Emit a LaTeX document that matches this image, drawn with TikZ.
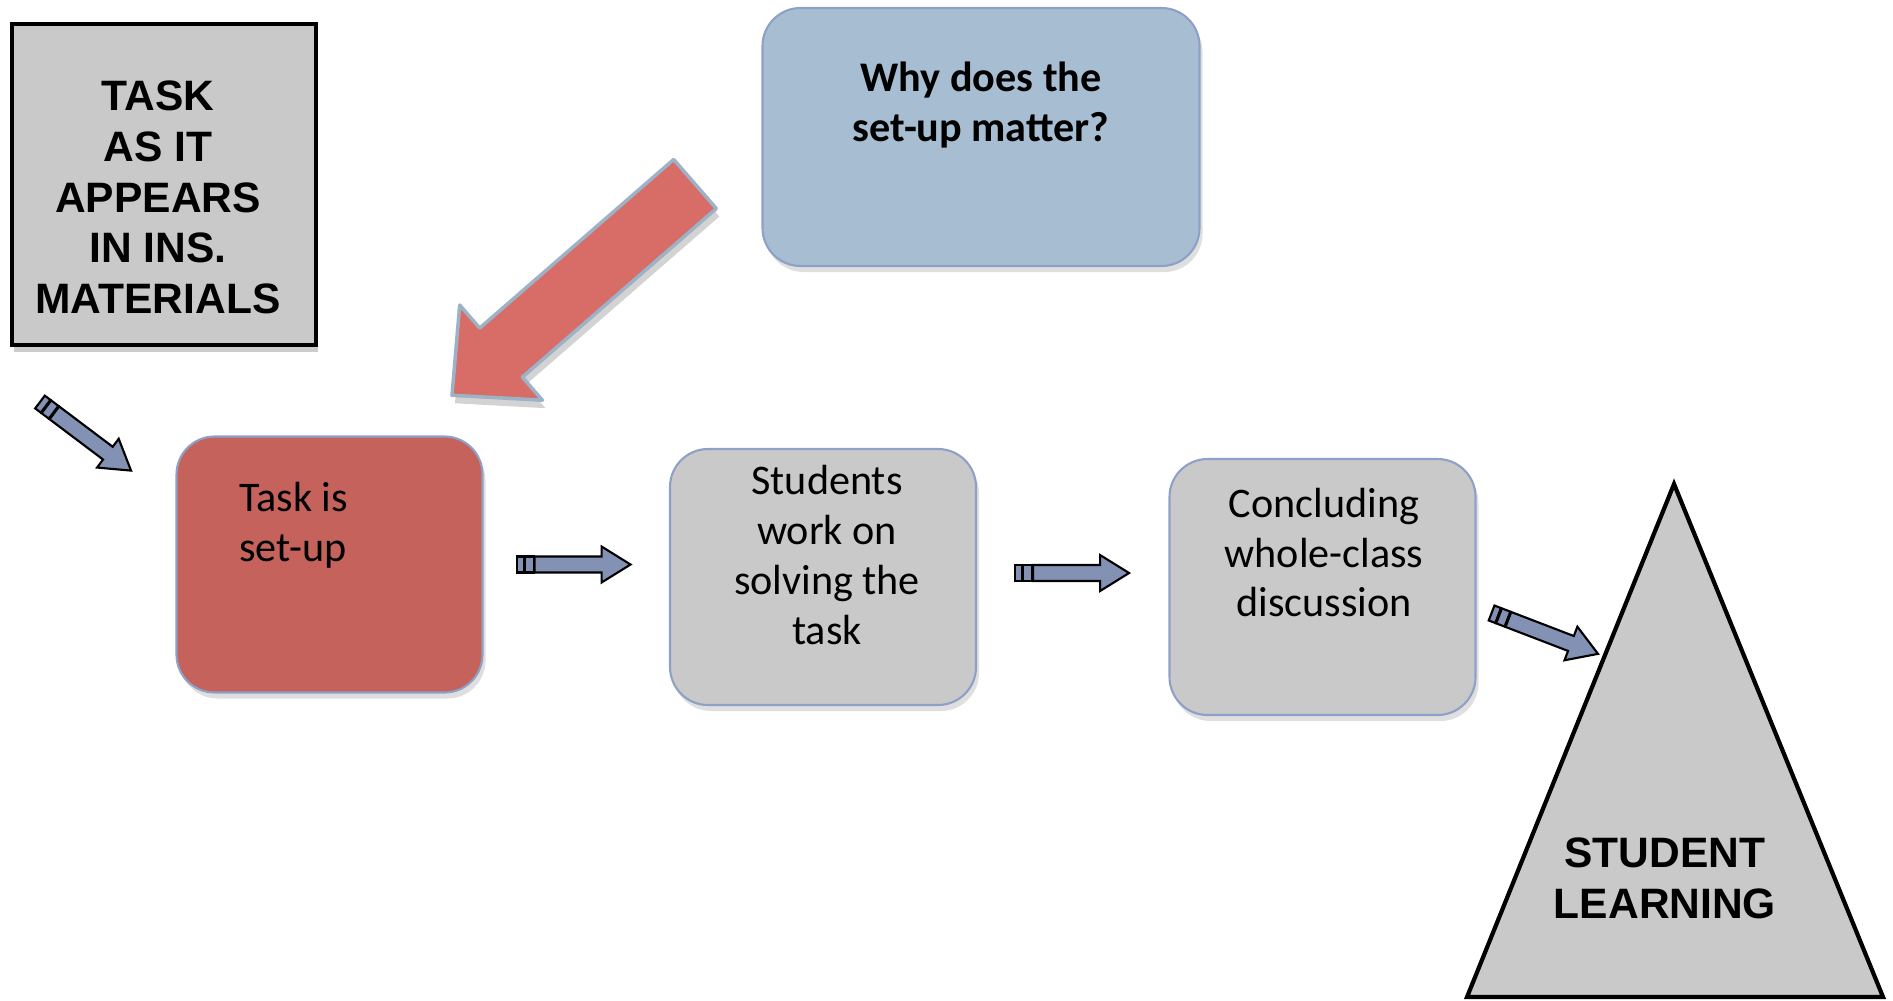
\documentclass[tikz,border=0pt]{standalone}
\usepackage{fontspec}
\setmainfont{Carlito}
\newfontfamily\arialfont{Liberation Sans}
\usepackage{xcolor}
\definecolor{stepgray}{HTML}{C9C9C9}
\definecolor{stepline}{HTML}{8FA0C6}
\definecolor{whyblue}{HTML}{A7BDD1}
\definecolor{setupred}{HTML}{C4625B}
\definecolor{arrowblue}{HTML}{8391B4}
\definecolor{bigred}{HTML}{D86C67}
\definecolor{bigline}{HTML}{9DB2C6}
\usetikzlibrary{positioning,shadows}

\begin{document}
\begin{tikzpicture}[x=0.1mm, y=-0.1mm,
    stepbox/.style={rectangle, draw=stepline, line width=0.6pt, rounded corners=3.8mm, fill=stepgray,
        minimum width=30.6mm, minimum height=25.6mm,
        drop shadow={opacity=0.25, shadow xshift=0.3mm, shadow yshift=-0.6mm}},
    steptext/.style={align=center, inner sep=0pt, font=\fontsize{12pt}{14.2pt}\selectfont},
    capbox/.style={rectangle, draw=black, line width=1.2pt, fill=stepgray,
        minimum width=30.4mm, minimum height=32.1mm,
        drop shadow={opacity=0.4, shadow xshift=0.2mm, shadow yshift=-0.7mm}},
    captext/.style={align=center, inner sep=0pt, font=\arialfont\bfseries\fontsize{12.1pt}{14.4pt}\selectfont},
    smallarrow/.style={draw=black, line width=0.6pt, fill=arrowblue},
    bigarrow/.style={draw=bigline, line width=1pt, fill=bigred, line join=round,
        drop shadow={opacity=0.35, shadow xshift=0.3mm, shadow yshift=-0.8mm}},
    pics/stripearrow/.style={code={
        \draw[smallarrow] (0,-8) rectangle (7,8);
        \draw[smallarrow] (8,-8) rectangle (17,8);
        \draw[smallarrow] (18,-8) -- (85,-8) -- (85,-18) -- (114,0) -- (85,18) -- (85,8) -- (18,8) -- cycle;
    }}]
    \useasboundingbox (0,0) rectangle (1893,1000);

    % Source task
    \node [capbox] (materials) at (164,184.5) {};
    \node [captext] (materialstext) at ([xshift=-0.6mm, yshift=-1.3mm]materials.center) {TASK\\AS IT\\APPEARS\\IN INS.\\MATERIALS};

    % Question
    \node [stepbox, fill=whyblue, minimum width=43.7mm, minimum height=25.8mm] (why) at (981,137) {};
    \node [steptext, font=\bfseries\fontsize{12pt}{14.2pt}\selectfont] (whytext) at ([yshift=3.2mm]why.center) {Why does the\\set-up matter?};

    % Phases
    \node [stepbox, fill=setupred] (setup) at (329.5,564.5) {};
    \node [steptext, align=left, anchor=west] (setuptext) at ([xshift=6.3mm, yshift=3.95mm]setup.west) {Task is\\set-up};

    \node [stepbox] (students) at (823,577) {};
    \node [steptext] (studentstext) at ([xshift=0.4mm, yshift=2.2mm]students.center) {Students\\work on\\solving the\\task};

    \node [stepbox] (concluding) at (1322.5,587) {};
    \node [steptext] (concludingtext) at ([xshift=0.15mm, yshift=3.45mm]concluding.center) {Concluding\\whole-class\\discussion};

    % Outcome
    \coordinate (peak) at (1674,484);
    \coordinate (baseright) at (1883,997);
    \coordinate (baseleft) at (1467,997);
    \draw [line width=1.2pt, fill=stepgray] (peak) -- (baseright) -- (baseleft) -- cycle;
    \node [captext] (learning) at (1665,878.5) {STUDENT\\LEARNING};

    % Big arrow
    \begin{scope}[shift={(695,184)}, rotate=221]
        \draw [bigarrow] (0,-32.5) -- (257,-32.5) -- (257,-63) -- (322,0) -- (257,63) -- (257,32.5) -- (0,32.5) -- cycle;
    \end{scope}

    % Flow arrows
    \pic [rotate=-37] at (40,402) {stripearrow};
    \pic at ([xshift=3.3mm]setup.east) {stripearrow};
    \pic at ([xshift=3.8mm, yshift=0.4mm]students.east) {stripearrow};
    \pic [rotate=-21] at ([xshift=1.5mm, yshift=-2.6mm]concluding.east) {stripearrow};
\end{tikzpicture}
\end{document}
